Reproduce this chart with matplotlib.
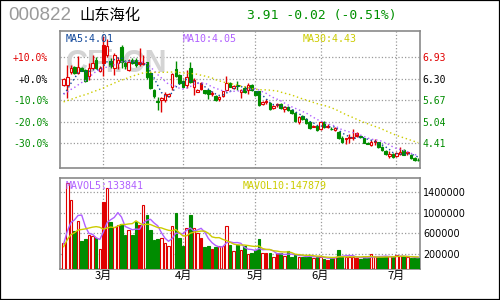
import matplotlib
matplotlib.use('Agg')
import matplotlib.pyplot as plt
from matplotlib.patches import Rectangle
import numpy as np

plt.rcParams['font.family'] = ['DejaVu Sans', 'Noto Sans CJK SC']

code = '000822'
name = '山东海化'

# closes before the visible window (only feed the moving averages)
prev_close = [5.40, 5.42, 5.45, 5.43, 5.48, 5.50, 5.46, 5.44, 5.50, 5.52,
              5.55, 5.53, 5.50, 5.52, 5.56, 5.58, 5.55, 5.60, 5.62, 5.65,
              5.80, 5.85, 5.88, 5.90, 5.85, 5.70, 5.72, 5.75, 5.80]
prev_vol = [250000, 260000, 280000, 300000, 360000, 380000, 400000, 380000, 410000]

opens = [6.12, 6.12, 6.49, 6.66, 6.46, 6.62, 6.56, 6.37, 6.61, 6.86,
         6.54, 7.30, 7.00, 6.81, 6.62, 6.75, 7.24, 6.77, 6.56, 6.86,
         6.86, 6.80, 6.72, 6.78, 6.48, 5.98, 5.64, 5.67, 5.68, 5.80,
         6.05, 6.59, 6.42, 6.24, 6.12, 6.61, 6.07, 5.92, 6.17, 5.96,
         5.98, 5.89, 5.80, 5.70, 5.80, 5.98, 6.17, 6.04, 6.12, 5.92,
         6.03, 5.98, 6.12, 5.93, 5.93, 5.56, 5.64, 5.59, 5.44, 5.55,
         5.56, 5.41, 5.47, 5.39, 5.29, 5.05, 5.21, 5.12, 5.05, 4.90,
         4.92, 4.84, 5.05, 4.92, 4.84, 4.80, 4.75, 4.58, 4.53, 4.56,
         4.57, 4.71, 4.64, 4.56, 4.42, 4.37, 4.44, 4.44, 4.30, 4.19,
         4.04, 4.10, 4.03, 4.10, 4.22, 4.12, 4.07, 3.98, 3.93]
highs = [6.31, 6.71, 6.71, 6.68, 6.97, 6.64, 6.58, 6.77, 7.00, 6.94,
         6.68, 7.54, 7.47, 6.90, 7.07, 6.95, 7.30, 6.85, 6.88, 6.90,
         6.90, 7.20, 7.00, 6.80, 6.50, 6.00, 5.77, 5.78, 5.90, 5.88,
         6.48, 6.81, 6.45, 6.27, 6.56, 6.78, 6.33, 6.00, 6.20, 5.98,
         6.00, 5.95, 5.82, 5.80, 5.95, 6.39, 6.20, 6.12, 6.25, 6.00,
         6.08, 6.18, 6.15, 5.95, 5.95, 5.65, 5.72, 5.62, 5.53, 5.60,
         5.60, 5.50, 5.50, 5.42, 5.32, 5.22, 5.24, 5.15, 5.08, 4.96,
         4.95, 5.07, 5.08, 4.97, 4.88, 4.88, 4.78, 4.62, 4.58, 4.68,
         4.82, 4.73, 4.66, 4.58, 4.46, 4.50, 4.55, 4.46, 4.33, 4.22,
         4.18, 4.12, 4.15, 4.30, 4.25, 4.20, 4.09, 4.02, 3.97]
lows = [6.10, 5.75, 6.45, 6.45, 6.44, 6.52, 6.22, 6.27, 6.58, 6.58,
        6.50, 6.38, 6.95, 6.62, 6.42, 6.60, 6.62, 6.60, 6.52, 6.72,
        6.65, 6.68, 6.70, 6.30, 6.00, 5.75, 5.39, 5.34, 5.62, 5.78,
        5.98, 6.35, 6.15, 6.05, 6.03, 6.18, 5.83, 5.90, 5.97, 5.86,
        5.71, 5.80, 5.65, 5.66, 5.78, 5.93, 6.05, 6.00, 5.98, 5.75,
        5.88, 5.87, 5.94, 5.80, 5.50, 5.52, 5.55, 5.40, 5.42, 5.47,
        5.42, 5.33, 5.36, 5.27, 5.05, 4.98, 5.10, 4.98, 4.83, 4.88,
        4.76, 4.80, 4.86, 4.85, 4.80, 4.76, 4.54, 4.43, 4.40, 4.43,
        4.50, 4.60, 4.58, 4.41, 4.38, 4.32, 4.37, 4.27, 4.20, 4.08,
        3.98, 3.98, 4.00, 4.08, 4.06, 4.06, 3.96, 3.90, 3.89]
closes = [6.29, 6.36, 6.63, 6.47, 6.65, 6.54, 6.25, 6.63, 6.76, 6.61,
          6.63, 6.75, 7.25, 6.68, 7.00, 6.85, 6.80, 6.68, 6.80, 6.77,
          6.71, 6.72, 6.76, 6.34, 6.04, 5.79, 5.62, 5.73, 5.86, 5.86,
          6.44, 6.38, 6.19, 6.07, 6.36, 6.22, 6.27, 5.98, 6.00, 5.88,
          5.86, 5.87, 5.68, 5.78, 5.93, 6.17, 6.07, 6.10, 6.09, 5.96,
          5.90, 6.12, 5.96, 5.83, 5.54, 5.62, 5.62, 5.42, 5.51, 5.53,
          5.44, 5.47, 5.39, 5.29, 5.08, 5.19, 5.12, 5.00, 4.86, 4.92,
          4.79, 5.05, 4.88, 4.88, 4.82, 4.86, 4.56, 4.46, 4.56, 4.60,
          4.60, 4.63, 4.60, 4.43, 4.40, 4.46, 4.47, 4.29, 4.22, 4.10,
          4.10, 4.00, 4.13, 4.16, 4.08, 4.15, 3.98, 3.93, 3.91]
volumes = [420000, 1575000, 1242000, 646000, 838000, 454000, 492000, 569000, 550000, 506000,
           300000, 1210000, 1467000, 825000, 729000, 762000, 781000, 569000, 665000, 569000,
           825000, 762000, 1146000, 954000, 665000, 473000, 492000, 506000, 410000, 358000,
           742000, 998000, 506000, 352000, 704000, 960000, 704000, 608000, 511000, 339000,
           352000, 300000, 339000, 364000, 364000, 736000, 383000, 255000, 383000, 287000,
           352000, 204000, 223000, 287000, 492000, 223000, 223000, 223000, 146000, 223000,
           223000, 159000, 255000, 146000, 178000, 146000, 146000, 159000, 178000, 127000,
           140000, 146000, 114000, 95000, 127000, 146000, 287000, 146000, 146000, 146000,
           146000, 127000, 114000, 140000, 127000, 204000, 159000, 146000, 146000, 160210,
           163380, 141650, 180870, 163475, 158320, 140260, 118935, 121480, 130210]

month_idx = [11, 33, 53, 71, 92]
month_labels = ['3月', '4月', '5月', '6月', '7月']
base_price = 6.30
pct_levels = [10, 0, -10, -20, -30]
vol_levels = [200000, 600000, 1000000, 1400000]

RED = '#e00000'
GREEN = '#008c00'
C_MA5 = '#10479a'
C_MA10 = '#b060ff'
C_MA30 = '#cccc00'
GRID = '#9a9a9a'
SPINE = '#8a8a8a'


def moving_avg(prev, values, n):
    full = list(prev) + list(values)
    start = len(prev)
    return [np.mean(full[k - n + 1:k + 1]) for k in range(start, len(full))]


def level_color(v):
    if v > 0:
        return RED
    if v < 0:
        return GREEN
    return 'black'


def style_ax(ax):
    for s in ax.spines.values():
        s.set_color(SPINE)
        s.set_linewidth(1.2)
    ax.tick_params(length=0)
    ax.set_xlim(-1.0, 98.5)
    ax.set_xticks(month_idx)
    ax.grid(True, color=GRID, linestyle=':', linewidth=0.9)
    ax.set_axisbelow(True)


n = len(closes)
x = np.arange(n)
o = np.array(opens)
c = np.array(closes)
pc = np.concatenate([[prev_close[-1]], c[:-1]])

# red hollow = up candle, red solid = down but above previous close, green = down
face, edge = [], []
for i in range(n):
    if c[i] >= o[i]:
        face.append('white'); edge.append(RED)
    elif c[i] >= pc[i]:
        face.append(RED); edge.append(RED)
    else:
        face.append(GREEN); edge.append(GREEN)

ma5 = moving_avg(prev_close, closes, 5)
ma10 = moving_avg(prev_close, closes, 10)
ma30 = moving_avg(prev_close, closes, 30)
mav5 = moving_avg(prev_vol, volumes, 5)
mav10 = moving_avg(prev_vol, volumes, 10)

fig = plt.figure(figsize=(5, 3), dpi=100)
fig.patches.append(Rectangle((0, 0), 1, 1, transform=fig.transFigure,
                             fill=False, edgecolor='black', linewidth=1.6))

# header
chg = closes[-1] - closes[-2]
fig.text(0.016, 0.948, code, color='#9a9a9a', fontsize=13.5,
         family='Liberation Sans', va='center')
fig.text(0.158, 0.950, name, color='black', fontsize=11,
         family='Noto Sans CJK SC', va='center')
fig.text(0.494, 0.948, '%.2f %+.2f (%+.2f%%)' % (closes[-1], chg, chg / closes[-2] * 100),
         color='#009000', fontsize=9.4, family='DejaVu Sans Mono', va='center')

# price panel
ax = fig.add_axes([0.12, 0.44, 0.72, 0.4567])
style_ax(ax)
ax.set_ylim(3.69, 7.70)
levels = [base_price * (1 + p / 100) for p in pct_levels]
ax.set_yticks(levels)
ax.set_yticklabels(['%+.1f%%' % p for p in pct_levels], family='DejaVu Sans Mono', fontsize=7)
for lab, p in zip(ax.get_yticklabels(), pct_levels):
    lab.set_color(level_color(p))
ax.tick_params(axis='y', pad=8.6)
ax.set_xticklabels([])

ax2 = ax.twinx()
ax2.set_ylim(ax.get_ylim())
ax2.set_yticks(levels)
ax2.set_yticklabels(['%.2f' % v for v in levels], family='DejaVu Sans Mono', fontsize=7)
for lab, p in zip(ax2.get_yticklabels(), pct_levels):
    lab.set_color(level_color(p))
ax2.tick_params(length=0, pad=1.5)
for s in ax2.spines.values():
    s.set_visible(False)

ax.text(0.156, 0.757, 'CFi.CN', transform=ax.transAxes, fontsize=22,
        fontweight='bold', family='Liberation Sans', color='#d4d4d4',
        ha='center', va='center', zorder=1)

ax.vlines(x, lows, highs, colors=edge, linewidth=1.0, zorder=2)
body = np.maximum(np.abs(c - o), 0.008)
ax.bar(x, body, bottom=np.minimum(o, c), width=0.7, color=face,
       edgecolor=edge, linewidth=0.8, zorder=3)

dots = (0, (1, 2))
ax.plot(x, ma5, color=C_MA5, linestyle=dots, linewidth=1.0, zorder=4)
ax.plot(x, ma10, color=C_MA10, linestyle=dots, linewidth=1.0, zorder=4)
ax.plot(x, ma30, color=C_MA30, linestyle=dots, linewidth=1.0, zorder=4)

lab_kw = dict(transform=ax.transAxes, family='DejaVu Sans Mono', fontsize=7.2, va='center')
ax.text(0.016, 0.945, 'MA5:%.2f' % ma5[-1], color=C_MA5, **lab_kw)
ax.text(0.342, 0.945, 'MA10:%.2f' % ma10[-1], color=C_MA10, **lab_kw)
ax.text(0.674, 0.945, 'MA30:%.2f' % ma30[-1], color=C_MA30, **lab_kw)

# volume panel
axv = fig.add_axes([0.12, 0.1033, 0.72, 0.3034])
style_ax(axv)
vmin, vmax = -84000, 1663000
axv.set_ylim(vmin, vmax)
axv.set_yticks(vol_levels)
axv.yaxis.tick_right()
axv.set_yticklabels([str(v) for v in vol_levels], fontsize=6.9)
axv.tick_params(axis='y', pad=2.2)
axv.set_xticklabels(month_labels, family='Noto Sans CJK SC', fontsize=8)
axv.tick_params(axis='x', pad=1.5)

vol = np.array(volumes)
axv.bar(x, vol - vmin, bottom=vmin, width=0.7, color=face, edgecolor=edge,
        linewidth=0.8, zorder=3)
axv.plot(x, mav5, color=C_MA10, linewidth=1.0, zorder=4)
axv.plot(x, mav10, color=C_MA30, linewidth=1.0, zorder=4)

vlab_kw = dict(transform=axv.transAxes, family='DejaVu Sans Mono', fontsize=7.2, va='center')
axv.text(0.016, 0.912, 'MAVOL5:%d' % round(mav5[-1]), color=C_MA10, **vlab_kw)
axv.text(0.508, 0.912, 'MAVOL10:%d' % round(mav10[-1]), color=C_MA30, **vlab_kw)

fig.savefig('out.png', dpi=100)
